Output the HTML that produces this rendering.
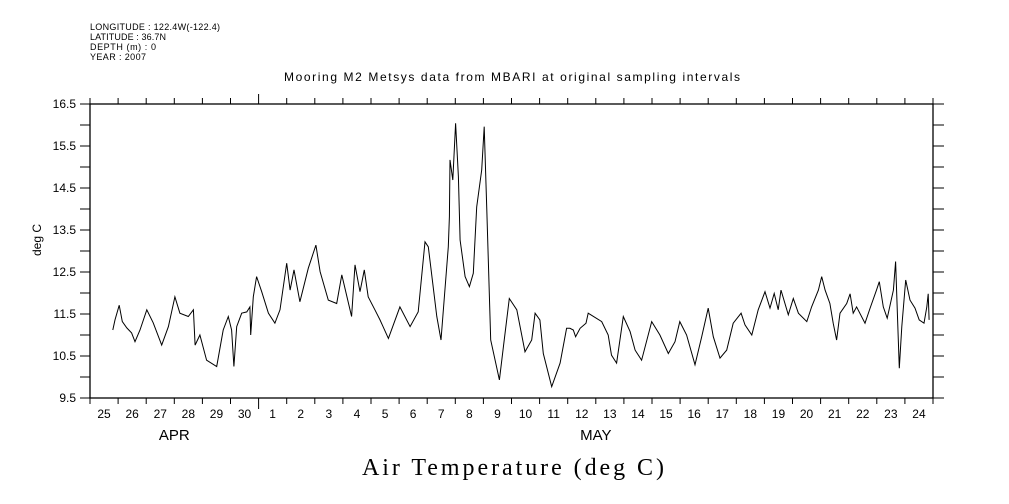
<!DOCTYPE html>
<html><head><meta charset="utf-8"><style>
body{margin:0;background:#fff;}
svg{display:block;font-family:"Liberation Sans",sans-serif;}
</style></head><body>
<svg id="chart" width="1009" height="504" viewBox="0 0 1009 504">
<g font-size="9" fill="#000">
<text x="90" y="30" textLength="130" lengthAdjust="spacing">LONGITUDE : 122.4W(-122.4)</text>
<text x="90" y="40" textLength="76" lengthAdjust="spacing">LATITUDE : 36.7N</text>
<text x="90" y="50" textLength="66" lengthAdjust="spacing">DEPTH (m) : 0</text>
<text x="90" y="60" textLength="56" lengthAdjust="spacing">YEAR : 2007</text>
</g>
<text x="284" y="81" textLength="456" lengthAdjust="spacing" font-size="12">Mooring M2 Metsys data from MBARI at original sampling intervals</text>
<text x="362" y="475" textLength="302" lengthAdjust="spacing" font-size="24" font-family="'Liberation Serif',serif">Air Temperature (deg C)</text>
<text transform="translate(41,240) rotate(-90)" text-anchor="middle" font-size="12">deg C</text>
<rect x="90" y="104" width="843" height="294" fill="none" stroke="#000" stroke-width="1.3"/>
<g id="axes"></g>
<path id="series" fill="none" stroke="#000" stroke-width="1"/>
</svg>
<script>
const dayLabels=["25","26","27","28","29","30","1","2","3","4","5","6","7","8","9","10","11","12","13","14","15","16","17","18","19","20","21","22","23","24"];
const yTickLabels=["16.5","15.5","14.5","13.5","12.5","11.5","10.5","9.5"];
const times=[0.81,0.89,1.04,1.15,1.31,1.48,1.60,1.78,2.02,2.25,2.55,2.79,3.02,3.20,3.50,3.68,3.74,3.91,4.15,4.51,4.74,4.92,5.04,5.12,5.22,5.40,5.58,5.69,5.72,5.81,5.93,6.11,6.35,6.58,6.76,7.00,7.12,7.26,7.47,7.77,8.04,8.19,8.48,8.78,8.96,9.31,9.43,9.61,9.76,9.90,10.14,10.32,10.62,11.03,11.39,11.68,11.92,12.04,12.34,12.49,12.75,12.79,12.81,12.91,13.01,13.11,13.17,13.35,13.50,13.64,13.76,13.94,14.03,14.12,14.26,14.57,14.71,14.92,15.19,15.48,15.72,15.84,16.01,16.13,16.43,16.73,16.96,17.08,17.20,17.28,17.44,17.65,17.73,18.21,18.44,18.56,18.74,18.98,19.22,19.40,19.63,19.99,20.28,20.58,20.82,20.99,21.23,21.53,21.77,22.00,22.18,22.42,22.66,22.89,23.17,23.31,23.55,23.78,24.02,24.20,24.35,24.49,24.59,24.85,25.03,25.21,25.51,25.68,25.92,26.04,26.16,26.33,26.45,26.57,26.69,26.93,27.05,27.16,27.28,27.58,27.76,27.99,28.09,28.23,28.37,28.59,28.67,28.74,28.80,28.89,29.03,29.18,29.36,29.51,29.68,29.78,29.83,29.86];
const temps=[11.12,11.36,11.71,11.32,11.17,11.05,10.84,11.12,11.60,11.29,10.76,11.20,11.91,11.52,11.44,11.60,10.76,11.00,10.40,10.25,11.12,11.44,11.12,10.25,11.20,11.52,11.55,11.67,11.00,11.91,12.39,12.03,11.52,11.28,11.60,12.71,12.07,12.55,11.79,12.59,13.14,12.51,11.83,11.75,12.43,11.44,12.67,12.03,12.55,11.91,11.60,11.36,10.92,11.67,11.20,11.55,13.22,13.10,11.44,10.88,13.10,13.82,15.17,14.69,16.04,14.77,13.26,12.39,12.15,12.47,14.05,14.93,15.96,13.98,10.88,9.93,10.72,11.87,11.60,10.60,10.88,11.52,11.36,10.56,9.77,10.33,11.16,11.16,11.12,10.96,11.16,11.28,11.52,11.32,11.00,10.52,10.33,11.44,11.08,10.64,10.40,11.32,11.00,10.56,10.84,11.32,11.00,10.29,10.96,11.64,10.96,10.45,10.64,11.28,11.52,11.24,11.00,11.60,12.03,11.64,11.99,11.60,12.07,11.48,11.87,11.52,11.32,11.67,12.07,12.39,12.07,11.75,11.28,10.88,11.52,11.75,11.98,11.52,11.67,11.28,11.64,12.07,12.27,11.67,11.40,12.07,12.75,11.36,10.21,11.20,12.31,11.83,11.64,11.36,11.28,11.67,11.98,11.36];
const X0=90,X1=933,Y0=398,Y1=104,DAYS=30,VMIN=9.5,VMAX=16.5;
const xs=d=>X0+(X1-X0)*d/DAYS;
const ys=v=>Y0-(Y0-Y1)*(v-VMIN)/(VMAX-VMIN);
const NS="http://www.w3.org/2000/svg";
const ax=document.getElementById('axes');
function mk(t,a){const e=document.createElementNS(NS,t);for(const k in a)e.setAttribute(k,a[k]);ax.appendChild(e);return e;}
for(let i=0;i<=DAYS;i++){
  const x=xs(i),big=(i===6);
  let t=mk('line',{x1:x,x2:x,y1:Y0,y2:Y0+(big?11:6),stroke:'#000'});
  
  
  t=mk('line',{x1:x,x2:x,y1:Y1,y2:Y1-(big?10:6),stroke:'#000'});
  
  
}
dayLabels.forEach((s,i)=>{
  const t=mk('text',{x:xs(i+0.5),y:418,'text-anchor':'middle','font-size':12});
  t.textContent=s;
  
  
});
let m=mk('text',{x:xs(3),y:440,'text-anchor':'middle','font-size':15});m.textContent='APR';


m=mk('text',{x:xs(18),y:440,'text-anchor':'middle','font-size':15});m.textContent='MAY';


for(let v=VMIN;v<=VMAX+1e-9;v+=0.5){
  const y=ys(v);
  let t=mk('line',{x1:X0-10,x2:X0,y1:y,y2:y,stroke:'#000'});
  
  
  t=mk('line',{x1:X1,x2:X1+11,y1:y,y2:y,stroke:'#000'});
  
  
}
yTickLabels.forEach(s=>{
  const t=mk('text',{x:76,y:ys(parseFloat(s))+4,'text-anchor':'end','font-size':12});
  t.textContent=s;
  
  
});
let d='';
times.forEach((t,i)=>{d+=(i?'L':'M')+xs(t).toFixed(1)+' '+ys(temps[i]).toFixed(1);});
document.getElementById('series').setAttribute('d',d);
</script>
</body></html>
